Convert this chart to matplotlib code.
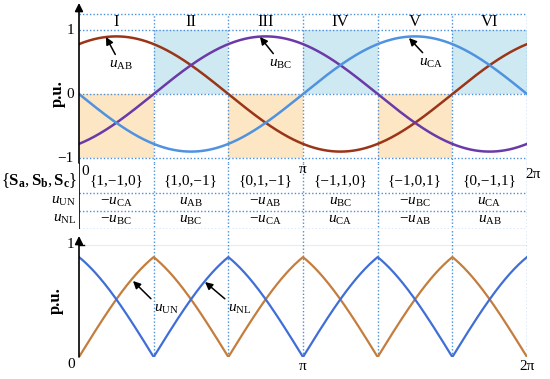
import numpy as np
import matplotlib
matplotlib.use("Agg")
import matplotlib.pyplot as plt

plt.rcParams['font.family'] = ['Liberation Serif', 'DejaVu Serif']
plt.rcParams['mathtext.fontset'] = 'custom'
plt.rcParams['mathtext.rm'] = 'Liberation Serif'
plt.rcParams['mathtext.it'] = 'Liberation Serif:italic'
plt.rcParams['mathtext.bf'] = 'Liberation Serif:bold'

# ---------------- data ----------------
sectors = ['I', 'II', 'III', 'IV', 'V', 'VI']
switch_states = ['{1,\u22121,0}', '{1,0,\u22121}', '{0,1,\u22121}',
                 '{\u22121,1,0}', '{\u22121,0,1}', '{0,\u22121,1}']
u_un_row = ['-CA', '+AB', '-AB', '+BC', '-BC', '+CA']
u_nl_row = ['-BC', '+BC', '-CA', '+CA', '-AB', '+AB']
shade_side = [-1, 1, -1, 1, -1, 1]          # -1: lower (orange), +1: upper (blue)
line_names = ['AB', 'BC', 'CA']
line_phase = {'AB': np.pi / 3, 'BC': -np.pi / 3, 'CA': np.pi}
top_amp = 0.9
bottom_amp = 1.03

# ---------------- colours ----------------
col_line = {'AB': '#9a3518', 'BC': '#6a3aa8', 'CA': '#4f93e0'}
col_un = '#c47d3c'
col_nl = '#3f6fd6'
dot_col = '#4a8fdc'
orange_fill = '#fde6c4'
blue_fill = '#cfe9f2'

W, H = 550, 379
fig = plt.figure(figsize=(5.5, 3.79), dpi=100)

X0, X1 = 79, 527
def pos(top_px, bot_px):
    return [X0 / W, 1 - bot_px / H, (X1 - X0) / W, (bot_px - top_px) / H]

TWO_PI = 2 * np.pi
theta = np.linspace(0, TWO_PI, 721)
bounds = np.arange(7) * np.pi / 3

def px2x(px):
    return (px - X0) / (X1 - X0) * TWO_PI

# ---------------- top axes ----------------
ax1 = fig.add_axes(pos(3, 163))
ax1.set_xlim(0, TWO_PI)
ytop_unit = 64.0
ax1.set_ylim(-(163 - 94) / ytop_unit, (94 - 3) / ytop_unit)
ax1.axis('off')
y_frame = (94 - 14) / ytop_unit
ylo = ax1.get_ylim()[0]

for k in range(6):
    if shade_side[k] < 0:
        ax1.fill_between([bounds[k], bounds[k + 1]], -1, 0, color=orange_fill, lw=0, zorder=0)
    else:
        ax1.fill_between([bounds[k], bounds[k + 1]], 0, 1, color=blue_fill, lw=0, zorder=0)

for yv in [y_frame, 1, 0, -1]:
    ax1.plot([0, TWO_PI], [yv, yv], ls=(0, (1, 1.5)), color=dot_col, lw=1.0, zorder=1)
for b in bounds[1:]:
    ax1.plot([b, b], [ylo, y_frame], ls=(0, (1, 1.5)), color=dot_col, lw=1.0, zorder=1)

for name in line_names:
    ax1.plot(theta, top_amp * np.sin(theta + line_phase[name]), color=col_line[name], lw=1.8, zorder=3)

for k, s in enumerate(sectors):
    ax1.text((bounds[k] + bounds[k + 1]) / 2, (94 - 22) / ytop_unit, s, ha='center', va='center', fontsize=12)

# axes arrows
ax1.annotate('', xy=(px2x(542), ylo), xytext=(0, ylo),
             arrowprops=dict(arrowstyle='-|>', color='k', lw=1.2, mutation_scale=12, shrinkA=0, shrinkB=0))
ax1.annotate('', xy=(0, (94 - 3) / ytop_unit), xytext=(0, ylo),
             arrowprops=dict(arrowstyle='-|>', color='k', lw=1.2, mutation_scale=12, shrinkA=0, shrinkB=0))
for yv, lab in [(1, '1'), (0, '0'), (-1, '\u22121')]:
    ax1.text(px2x(74), yv, lab, ha='right', va='center', fontsize=11)
ax1.text(px2x(58), 0, 'p.u.', rotation=90, ha='center', va='center', fontsize=12, fontweight='bold')

arrow_kw = dict(arrowstyle='-|>', color='k', lw=1.1, mutation_scale=11, shrinkA=1, shrinkB=0)
def ty(py):
    return (94 - py) / ytop_unit
ax1.annotate(r'$u_{\rm AB}$', xy=(px2x(106), ty(37)), xytext=(px2x(121), ty(65)),
             ha='center', va='center', fontsize=11, arrowprops=dict(relpos=(0.35, 1.0), **arrow_kw))
ax1.annotate(r'$u_{\rm BC}$', xy=(px2x(260), ty(37)), xytext=(px2x(281), ty(64)),
             ha='center', va='center', fontsize=11, arrowprops=dict(relpos=(0.3, 1.0), **arrow_kw))
ax1.annotate(r'$u_{\rm CA}$', xy=(px2x(409), ty(38)), xytext=(px2x(431), ty(63)),
             ha='center', va='center', fontsize=11, arrowprops=dict(relpos=(0.3, 1.0), **arrow_kw))

# ---------------- table axes ----------------
axt = fig.add_axes(pos(163, 229))
axt.set_xlim(0, TWO_PI)
axt.set_ylim(229, 163)
axt.axis('off')
for yv in [193, 211, 229]:
    axt.plot([0, TWO_PI], [yv, yv], ls=(0, (1, 1.5)), color=dot_col, lw=1.0)
for b in bounds[1:]:
    axt.plot([b, b], [163, 229], ls=(0, (1, 1.5)), color=dot_col, lw=1.0)
axt.plot([0, 0], [163, 229], color='k', lw=1.2)

def fmt(entry):
    sign = '-' if entry[0] == '-' else ''
    return r'$%su_{\rm %s}$' % (sign, entry[1:])

for k in range(6):
    xc = (bounds[k] + bounds[k + 1]) / 2
    axt.text(xc, 181, switch_states[k], ha='center', va='center', fontsize=11)
    axt.text(xc, 202, fmt(u_un_row[k]), ha='center', va='center', fontsize=11)
    axt.text(xc, 220, fmt(u_nl_row[k]), ha='center', va='center', fontsize=11)
axt.text(px2x(85), 172, '0', ha='center', va='center', fontsize=11)
axt.text(np.pi, 170, '\u03c0', ha='center', va='center', fontsize=11)
axt.text(px2x(533), 175, '2\u03c0', ha='center', va='center', fontsize=11)
axt.text(px2x(77), 181, r'$\{\mathbf{S}_\mathbf{a},\mathbf{S}_\mathbf{b},\mathbf{S}_\mathbf{c}\}$',
         ha='right', va='center', fontsize=12)
axt.text(px2x(76), 201, r'$u_{\rm UN}$', ha='right', va='center', fontsize=11)
axt.text(px2x(76), 219, r'$u_{\rm NL}$', ha='right', va='center', fontsize=11)

# ---------------- bottom axes ----------------
ax2 = fig.add_axes(pos(229, 357))
ax2.set_xlim(0, TWO_PI)
ybot_unit = 112.0
ax2.set_ylim(0, (357 - 229) / ybot_unit)
ax2.axis('off')
ytopb = ax2.get_ylim()[1]

def sector_curve(row):
    out = np.zeros_like(theta)
    for k, entry in enumerate(row):
        m = (theta >= bounds[k]) & (theta <= bounds[k + 1])
        sgn = -1.0 if entry[0] == '-' else 1.0
        out[m] = sgn * bottom_amp * np.sin(theta[m] + line_phase[entry[1:]])
    return out

ax2.plot([0, TWO_PI], [1, 1], color='#ececec', lw=0.8, zorder=0)
for b in bounds[1:]:
    ax2.plot([b, b], [0, ytopb], ls=(0, (1, 1.5)), color=dot_col, lw=1.0, zorder=1)
ax2.plot(theta, sector_curve(u_un_row), color=col_un, lw=1.6, zorder=3)
ax2.plot(theta, sector_curve(u_nl_row), color=col_nl, lw=1.6, zorder=3)

ax2.annotate('', xy=(px2x(546), 0), xytext=(0, 0),
             arrowprops=dict(arrowstyle='-|>', color='k', lw=1.2, mutation_scale=12, shrinkA=0, shrinkB=0))
ax2.annotate('', xy=(0, (357 - 236) / ybot_unit), xytext=(0, 0),
             arrowprops=dict(arrowstyle='-|>', color='k', lw=1.2, mutation_scale=12, shrinkA=0, shrinkB=0))
ax2.plot([0, px2x(84) ], [1, 1], color='k', lw=1.0)
ax2.text(px2x(74), 1, '1', ha='right', va='center', fontsize=11)
ax2.text(px2x(71), -8 / ybot_unit, '0', ha='center', va='center', fontsize=11)
ax2.text(np.pi, -10 / ybot_unit, '\u03c0', ha='center', va='center', fontsize=11)
ax2.text(TWO_PI, -10 / ybot_unit, '2\u03c0', ha='center', va='center', fontsize=11)
ax2.text(px2x(56), 0.5, 'p.u.', rotation=90, ha='center', va='center', fontsize=12, fontweight='bold')

def by(py):
    return (357 - py) / ybot_unit
ax2.annotate(r'$u_{\rm UN}$', xy=(px2x(133), by(281)), xytext=(px2x(166), by(309)),
             ha='center', va='center', fontsize=11, arrowprops=dict(relpos=(0.1, 0.9), **arrow_kw))
ax2.annotate(r'$u_{\rm NL}$', xy=(px2x(205), by(282)), xytext=(px2x(240), by(309)),
             ha='center', va='center', fontsize=11, arrowprops=dict(relpos=(0.1, 0.9), **arrow_kw))

fig.savefig('out.png', dpi=100)
